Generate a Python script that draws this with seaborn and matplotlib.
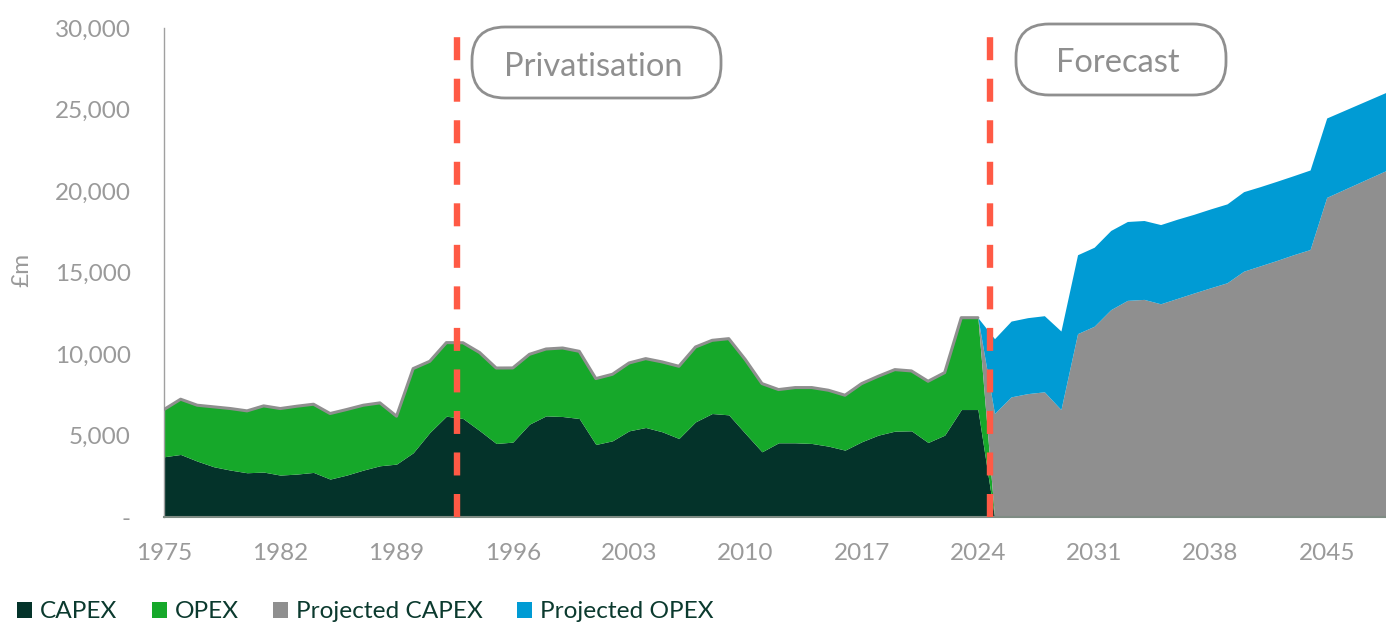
import numpy as np
import pandas as pd
import matplotlib
matplotlib.use("Agg")
import matplotlib.pyplot as plt
import seaborn as sns
from matplotlib.patches import FancyBboxPatch, Patch
from matplotlib.transforms import IdentityTransform

# ---------------- data (£m) ----------------
hist_years = list(range(1975, 2025))
capex = [3695, 3837, 3429, 3082, 2878, 2715, 2756, 2572, 2633, 2735,
         2327, 2572, 2878, 3143, 3245, 3940, 5185, 6185, 6042, 5300,
         4511, 4593, 5695, 6205, 6165, 6042, 4450, 4674, 5287, 5491,
         5226, 4817, 5838, 6348, 6267, 5124, 4001, 4552, 4552, 4511,
         4348, 4103, 4613, 5021, 5266, 5287, 4572, 5021, 6593, 6593]
opex = [2900, 3389, 3429, 3674, 3776, 3796, 4061, 4082, 4164, 4184,
        4021, 4023, 3980, 3858, 2940, 5164, 4368, 4513, 4648, 4790,
        4629, 4552, 4285, 4102, 4203, 4123, 4041, 4083, 4163, 4225,
        4286, 4430, 4592, 4491, 4674, 4531, 4184, 3266, 3388, 3429,
        3429, 3368, 3572, 3613, 3776, 3674, 3756, 3837, 5634, 5634]

proj_years = list(range(2025, 2050))
proj_capex = [6350, 7370, 7570, 7680, 6590, 11250, 11700, 12720, 13290, 13350,
              13080, 13410, 13740, 14060, 14370, 15080, 15410, 15740, 16090, 16410,
              19610, 20070, 20530, 20990, 21450]
proj_opex = [4590, 4650, 4660, 4670, 4820, 4840, 4850, 4860, 4840, 4840,
             4860, 4860, 4830, 4840, 4840, 4880, 4860, 4860, 4850, 4880,
             4870, 4850, 4830, 4810, 4790]

series_names = ["CAPEX", "OPEX", "Projected CAPEX", "Projected OPEX"]
series_colors = ["#04332a", "#16a82a", "#8f8f8f", "#009bd4"]
y_ticks = [0, 5000, 10000, 15000, 20000, 25000, 30000]
y_ticklabels = ["-", "5,000", "10,000", "15,000", "20,000", "25,000", "30,000"]
x_ticks = [1975, 1982, 1989, 1996, 2003, 2010, 2017, 2024, 2031, 2038, 2045]
events = [(1992.65, "Privatisation"), (2024.7, "Forecast")]

# ---------------- build table ----------------
years = list(range(1975, 2050))
df = pd.DataFrame({"year": years})
df["CAPEX"] = df["year"].map(dict(zip(hist_years, capex))).fillna(0)
df["OPEX"] = df["year"].map(dict(zip(hist_years, opex))).fillna(0)
df["Projected CAPEX"] = df["year"].map(dict(zip(proj_years, proj_capex))).fillna(0)
df["Projected OPEX"] = df["year"].map(dict(zip(proj_years, proj_opex))).fillna(0)

# ---------------- style ----------------
sns.set_theme(style="white")
plt.rcParams["font.family"] = ["Lato", "DejaVu Sans"]
tick_grey = "#9a9a9a"
text_dark = "#0b3a2e"

fig = plt.figure(figsize=(13.86, 6.26), dpi=100)
W, H = 1386, 626
ax = fig.add_axes([164 / W, (H - 517) / H, (W - 164) / W, (517 - 28) / H])

ax.stackplot(df["year"], *[df[s] for s in series_names], colors=series_colors,
             linewidth=0, zorder=2)

# grey outline on the top of the historical area
hist_top = df[df["year"] <= 2024]
sns.lineplot(x=hist_top["year"], y=hist_top["CAPEX"] + hist_top["OPEX"], ax=ax,
             color="#8f8f8f", linewidth=2.2, zorder=3)

ax.set_xlim(1975, 1975 + (W - 164) / 16.61)
ax.set_ylim(0, 30000)
ax.set_yticks(y_ticks)
ax.set_yticklabels(y_ticklabels)
ax.set_xticks(x_ticks)
ax.set_xticklabels([str(x) for x in x_ticks])
ax.tick_params(axis="y", length=0, pad=24, labelsize=17.5, labelcolor=tick_grey)
ax.tick_params(axis="x", length=0, pad=19, labelsize=17.5, labelcolor=tick_grey)
ax.set_xlabel("")
ax.set_ylabel("")
for s in ["top", "right"]:
    ax.spines[s].set_visible(False)
ax.spines["left"].set_color("#a0a0a0")
ax.spines["left"].set_linewidth(1.0)
ax.spines["bottom"].set_color("#7f8c84")
ax.spines["bottom"].set_linewidth(1.5)
ax.spines["bottom"].set_zorder(4)

# event lines
for x, _ in events:
    ax.axvline(x, ymin=0, ymax=0.993, color="#ff5a45", linewidth=4.6,
               dashes=(3.6, 2.9), zorder=5)

# rounded labels (pixel coordinates)
boxes = [((472, 27, 721, 98), "Privatisation"), ((1016, 24, 1226, 95), "Forecast")]
for (x0, y0, x1, y1), label in boxes:
    patch = FancyBboxPatch((x0, H - y1), x1 - x0, y1 - y0,
                           boxstyle="round,pad=0,rounding_size=33",
                           transform=IdentityTransform(), facecolor="white",
                           edgecolor="#8f8f8f", linewidth=2.0, zorder=6)
    fig.add_artist(patch)
    fig.text((x0 + x1) / 2 / W - 3 / W, 1 - (y0 + y1 + 8) / 2 / H, label,
             ha="center", va="center", fontsize=23.5, color="#8f8f8f", zorder=7)

# y label
fig.text(22 / W, 1 - 270 / H, "£m", rotation=90, ha="center", va="center",
         fontsize=17.5, color=tick_grey)

# legend
handles = [Patch(facecolor=c, edgecolor="none", label=n)
           for n, c in zip(series_names, series_colors)]
leg = fig.legend(handles=handles, loc="center left",
                 bbox_to_anchor=(0 / W, 1 - 612 / H),
                 ncol=4, frameon=False, fontsize=17.6, handlelength=0.62,
                 handleheight=0.62, handletextpad=0.32, columnspacing=1.4,
                 borderaxespad=0.3)
for t in leg.get_texts():
    t.set_color(text_dark)

fig.savefig("out.png", dpi=100)
